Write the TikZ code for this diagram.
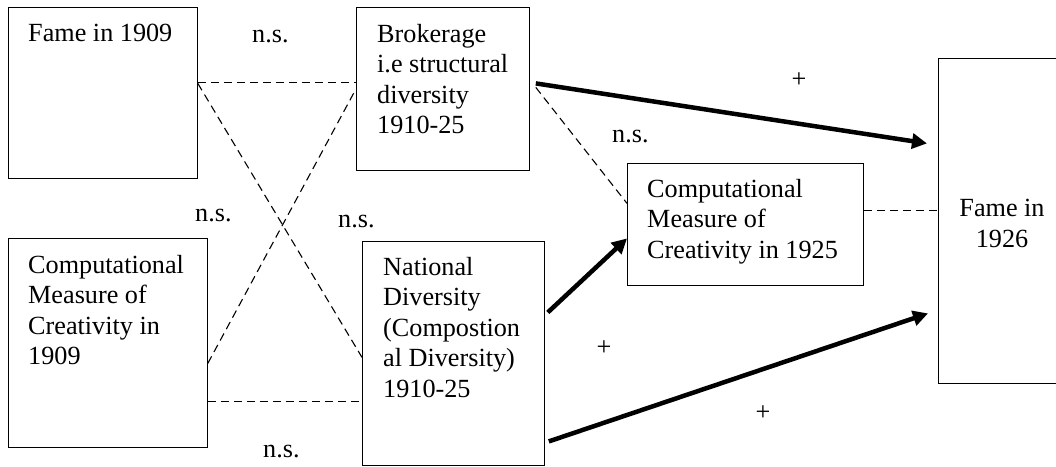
\documentclass[tikz,border=0pt]{standalone}
\usepackage{fontspec}
\setmainfont{Liberation Serif}
\usetikzlibrary{arrows.meta}

\begin{document}
\begin{tikzpicture}[x=1pt,y=-1pt]
\tikzset{box/.style = {draw, line width=0.8pt, anchor=north west, inner sep=0pt}}
\tikzset{txt/.style = {anchor=north west, align=left, inner sep=0pt, font=\fontsize{26.2}{30.5}\selectfont}}
\tikzset{sig/.style = {anchor=base west, inner sep=0pt, font=\fontsize{26.2}{30.5}\selectfont}}
\tikzset{nslink/.style = {line width=1.1pt, dash pattern=on 8pt off 5pt}}
\tikzset{poslink/.style = {line width=4.5pt, -{Triangle[length=15pt,width=15pt]}}}
\useasboundingbox (0,0) rectangle (1056,466);
\node[box, minimum width=189pt, minimum height=171pt] (fame09) at (8,7) {};
\node[box, minimum width=173pt, minimum height=163pt] (broker) at (356,7) {};
\node[box, minimum width=199pt, minimum height=209pt] (comp09) at (8,238) {};
\node[box, minimum width=182pt, minimum height=224pt] (natl) at (362,241) {};
\node[box, minimum width=236pt, minimum height=122pt] (comp25) at (627,163) {};
\node[box, minimum width=128pt, minimum height=325pt] (fame26) at (938,58) {};
\node[txt] (fame09t) at (28,24) {Fame in 1909};
\node[txt] (brokert) at (377,24) {Brokerage\\i.e structural\\diversity\\1910-25};
\node[txt] (comp09t) at (28,255) {Computational\\Measure of\\Creativity in\\1909};
\node[txt] (natlt) at (383,257) {National\\Diversity\\(Compostion\\al Diversity)\\1910-25};
\node[txt] (comp25t) at (647,179) {Computational\\Measure of\\Creativity in 1925};
\node[txt, anchor=north, align=center] (fame26t) at (1002,199) {Fame in\\1926};
\node[sig] (ns1) at (252,42) {n.s.};
\node[sig] (ns2) at (195,221) {n.s.};
\node[sig] (ns3) at (338,227) {n.s.};
\node[sig] (ns4) at (263,457) {n.s.};
\node[sig] (ns5) at (612,142) {n.s.};
\node[sig, anchor=center] (pos1) at (799,80) {+};
\node[sig, anchor=center] (pos2) at (604,348) {+};
\node[sig, anchor=center] (pos3) at (763,413) {+};
\draw[nslink] ([yshift=10.5pt]fame09.east) to ([yshift=6.5pt]broker.west);
\draw[nslink] ([yshift=9.5pt]fame09.east) to ([yshift=-4pt]natl.west);
\draw[nslink] ([yshift=-20.5pt]comp09.east) to (broker.west);
\draw[nslink] ([yshift=-58.5pt]comp09.east) to ([yshift=-48pt]natl.west);
\draw[nslink] ([shift={(6pt,1.5pt)}]broker.east) to ([yshift=21pt]comp25.west);
\draw[nslink] ([yshift=14pt]comp25.east) to ([yshift=10.5pt]fame26.west);
\draw[poslink] ([shift={(6pt,5.5pt)}]broker.east) to ([shift={(-11pt,77.5pt)}]fame26.west);
\draw[poslink] ([shift={(3pt,41pt)}]natl.east) to ([yshift=-14pt]comp25.west);
\draw[poslink] ([shift={(4pt,-88pt)}]natl.east) to ([shift={(-10pt,-92.5pt)}]fame26.west);
\end{tikzpicture}
\end{document}
